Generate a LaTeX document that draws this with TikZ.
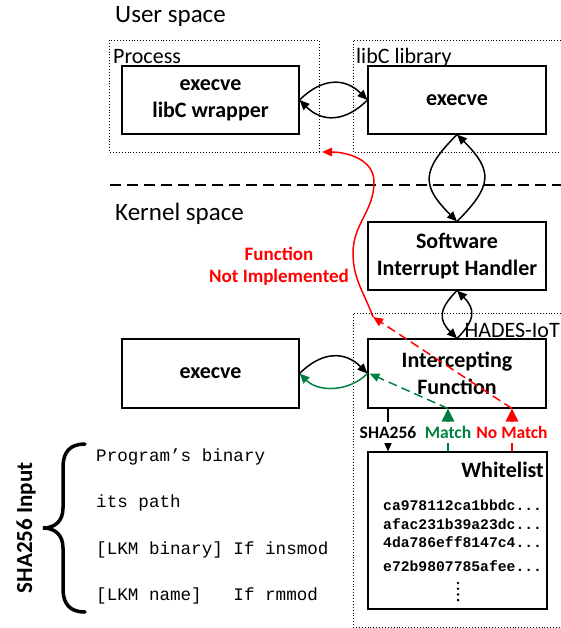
\documentclass[tikz,border=0pt]{standalone}
\usepackage{fontspec}
\setmainfont{Carlito}
\setmonofont{Liberation Mono}
\usetikzlibrary{arrows.meta}
\definecolor{matchgreen}{RGB}{0,128,64}
\definecolor{nomatchred}{RGB}{255,0,0}
\newcommand{\boxfont}{\fontsize{22}{27}\selectfont\bfseries}
\newcommand{\lblfont}{\fontsize{22}{26}\selectfont}
\newcommand{\spacefont}{\fontsize{25}{30}\selectfont}
\newcommand{\tagfont}{\fontsize{17.5}{21}\selectfont\bfseries}
\newcommand{\redfont}{\fontsize{19}{22}\selectfont\bfseries}
\newcommand{\codefont}{\fontsize{17.6}{21}\selectfont\ttfamily}
\newcommand{\hashfont}{\fontsize{14.7}{18}\selectfont\ttfamily\bfseries}
\tikzset{
	box/.style={draw, line width=1.1pt, minimum width=178pt, minimum height=68pt, inner sep=0pt, align=center, font=\boxfont},
	frame/.style={dotted, line width=0.9pt},
	arr/.style={-{Triangle[length=10pt,width=8.5pt]}, line width=1.5pt},
	bigarr/.style={-{Triangle[length=13pt,width=12.5pt]}, line width=1.5pt},
	tag/.style={fill=white, inner xsep=1pt, inner ysep=0pt, minimum height=21pt, font=\tagfont},
	txt/.style={inner sep=0pt},
}

\begin{document}
\begin{tikzpicture}[x=1pt,y=1pt]
			\useasboundingbox (0,0) rectangle (561,-628);
			% user space
			\node[txt, anchor=base west, font=\spacefont] (userlbl) at (115,-23) {User space};
			\draw[frame] (109,-40) rectangle (319,-152);
			\draw[frame] (561,-40) -- (353,-40) -- (353,-152) -- (561,-152);
			\node[txt, anchor=base west, font=\lblfont] (proclbl) at (113,-64) {Process};
			\node[txt, anchor=base west, font=\lblfont] (liblbl) at (356,-64) {libC library};
			\node[box, minimum width=177pt] (wrap) at (210.5,-100) {execve\\libC wrapper};
			\node[box] (libexec) at (457,-100) {execve};
			\draw[dash pattern=on 11pt off 6pt, line width=1.3pt] (110,-185) -- (561,-185);
			% kernel space
			\node[txt, anchor=base west, font=\spacefont] (kernlbl) at (115,-221) {Kernel space};
			\node[box] (sih) at (457,-256) {Software\\Interrupt Handler};
			\draw[frame] (561,-313) -- (353,-313) -- (353,-627) -- (561,-627);
			\node[txt, anchor=base east, font=\lblfont] (hadeslbl) at (560,-337) {HADES-IoT};
			\node[box, minimum height=69pt] (intf) at (457,-373.5) {Intercepting\\Function};
			\node[box, minimum width=177pt, minimum height=69pt] (kexec) at (210.5,-373.5) {execve};
			\node[draw, line width=1.1pt, minimum width=179pt, minimum height=157pt, inner sep=0pt] (wl) at (457.5,-530.5) {};
			\node[txt, anchor=base east, font=\boxfont] (wltitle) at (544,-477) {Whitelist};
			\node[txt, anchor=base west, font=\hashfont] (hasha) at (383,-510.5) {ca978112ca1bbdc...};
			\node[txt, anchor=base west, font=\hashfont] (hashb) at (383,-529) {afac231b39a23dc...};
			\node[txt, anchor=base west, font=\hashfont] (hashc) at (383,-547.5) {4da786eff8147c4...};
			\node[txt, anchor=base west, font=\hashfont] (hashd) at (383,-571) {e72b9807785afee...};
			\foreach \y in {583,588.7,594.4,600.1}{
				\fill (458,-\y) circle (1.4pt);
			}
			% calls
			\draw[arr] (wrap.east) to[out=45,in=135,looseness=1.2] (libexec.west);
			\draw[arr] (libexec.west) to[out=-135,in=-45,looseness=1.2] (wrap.east);
			\draw[arr] (libexec.south) to[out=-135,in=135,looseness=1.5] (sih.north);
			\draw[arr] (sih.north) to[out=45,in=-45,looseness=1.5] (libexec.south);
			\draw[arr] (sih.south) to[out=-135,in=135,looseness=1.4] (intf.north);
			\draw[arr] (intf.north) to[out=45,in=-45,looseness=1.4] (sih.south);
			\draw[arr] (kexec.east) to[out=45,in=135,looseness=1.2] (intf.west);
			\draw[arr, matchgreen] (intf.west) to[out=-135,in=-45,looseness=1.0] (kexec.east);
			% whitelist check
			\coordinate (xsha) at (388,0);
			\coordinate (xmatch) at (448,0);
			\coordinate (xnomatch) at (512,0);
			\coordinate (ret) at (373,-317);
			\coordinate (retend) at (322,-152);
			\draw[arr] (intf.south -| xsha) -- node[tag, pos=0.56] {SHA256} (wl.north -| xsha);
			\draw[bigarr, matchgreen] (wl.north -| xmatch) -- node[tag, pos=0.44] {Match} (intf.south -| xmatch);
			\draw[bigarr, nomatchred] (wl.north -| xnomatch) -- node[tag, pos=0.44] {No Match} (intf.south -| xnomatch);
			\draw[arr, matchgreen, dash pattern=on 9pt off 5pt] (intf.south -| xmatch) -- ([xshift=2pt]intf.west);
			\draw[arr, nomatchred, dash pattern=on 9pt off 5pt] (intf.south -| xnomatch) -- (ret);
			\draw[arr, nomatchred] (ret) to[out=110,in=-90] (353,-253) to[out=90,in=-90] (374,-182) to[out=90,in=0] (retend);
			\node[align=center, font=\redfont, text=nomatchred] (nilbl) at (279,-266) {Function\\Not Implemented};
			% hash input
			\node[txt, rotate=90, anchor=base, font=\fontsize{23}{28}\selectfont\bfseries] (shainput) at (32,-528) {SHA256 Input};
			\draw[line width=3.5pt, line cap=round] (85,-444) .. controls (70,-444) and (63,-452) .. (63,-467) -- (63,-508) .. controls (63,-521) and (55,-528) .. (43,-528) .. controls (55,-528) and (63,-535) .. (63,-548) -- (63,-589) .. controls (63,-604) and (70,-612) .. (85,-612);
			\node[txt, anchor=base west, font=\codefont] (binline) at (96,-461) {Program’s binary};
			\node[txt, anchor=base west, font=\codefont] (pathline) at (96,-507) {its path};
			\node[txt, anchor=base west, font=\codefont] (insline) at (96,-554) {[LKM binary] If insmod};
			\node[txt, anchor=base west, font=\codefont] (rmline) at (96,-600) {[LKM name]\ \ \ If rmmod};
		\end{tikzpicture}
\end{document}
